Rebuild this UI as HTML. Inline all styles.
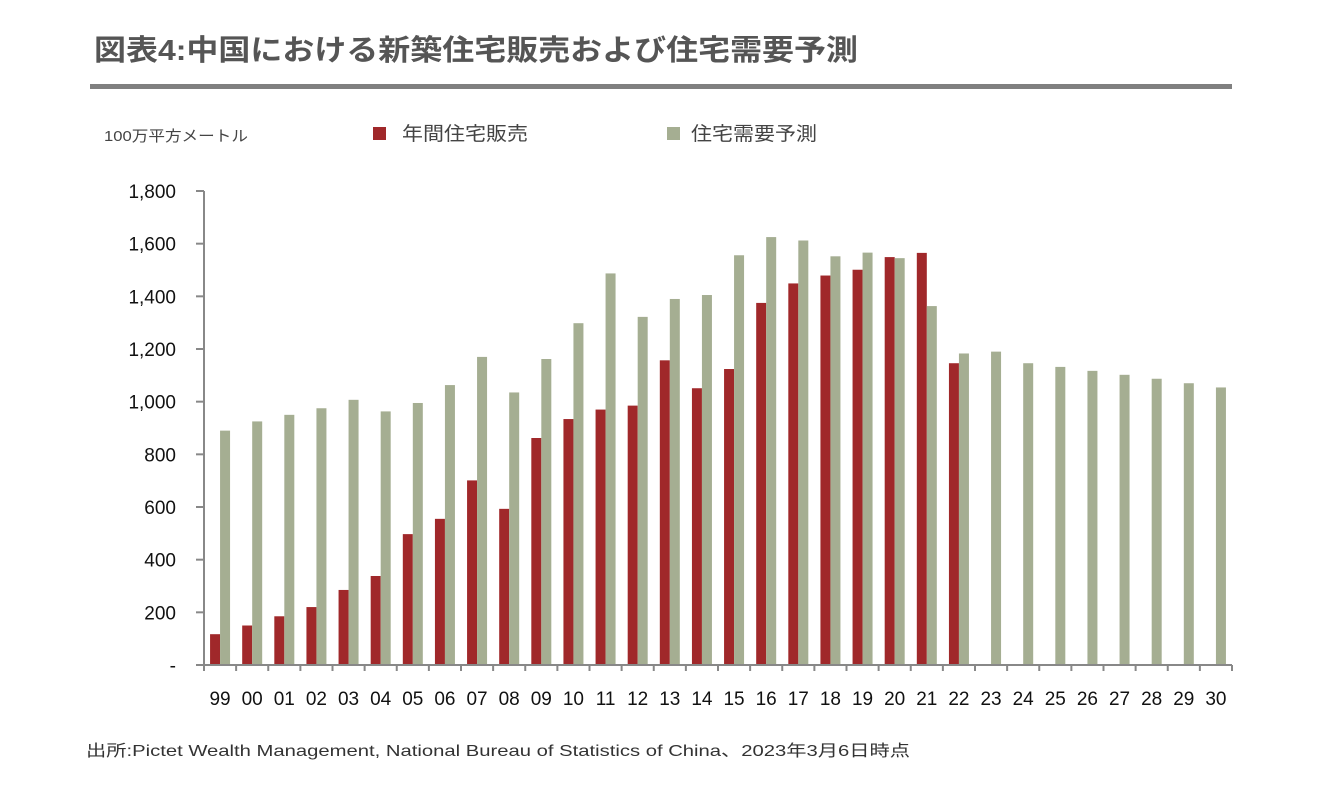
<!DOCTYPE html>
<html><head><meta charset="utf-8">
<style>
body{margin:0;background:#fff;width:1336px;height:782px;overflow:hidden;font-family:"Liberation Sans","Noto Sans CJK JP",sans-serif;}
svg text{font-family:"Liberation Sans","Noto Sans CJK JP",sans-serif;}
</style></head>
<body>
<svg width="1336" height="782">
<text x="94" y="60" font-size="29" font-weight="bold" fill="#555" textLength="764" lengthAdjust="spacingAndGlyphs">図表4:中国における新築住宅販売および住宅需要予測</text>
<rect x="90" y="84" width="1142" height="5" fill="#808080"/>
<text x="104" y="141" font-size="15" fill="#444" textLength="144" lengthAdjust="spacingAndGlyphs">100万平方メートル</text>
<rect x="373" y="127" width="13" height="13" fill="#a0282a"/>
<text x="402" y="140" font-size="19" fill="#444" textLength="126" lengthAdjust="spacingAndGlyphs">年間住宅販売</text>
<rect x="667" y="127" width="13" height="13" fill="#a5ae92"/>
<text x="691" y="140" font-size="19" fill="#444" textLength="126" lengthAdjust="spacingAndGlyphs">住宅需要予測</text>
<g id="plot"></g>
<text x="86" y="756" font-size="16" fill="#333" textLength="824" lengthAdjust="spacingAndGlyphs">出所:Pictet Wealth Management, National Bureau of Statistics of China、2023年3月6日時点</text>
</svg>
<script>
const categories=["99","00","01","02","03","04","05","06","07","08","09","10","11","12","13","14","15","16","17","18","19","20","21","22","23","24","25","26","27","28","29","30"];
const salesValues=[117,150,185,220,285,338,497,555,701,593,862,934,970,985,1157,1051,1124,1375,1449,1479,1501,1549,1565,1146];
const demandValues=[890,925,950,975,1007,963,995,1063,1170,1035,1162,1298,1487,1322,1390,1405,1556,1625,1612,1552,1566,1545,1363,1183,1190,1146,1132,1117,1102,1087,1070,1054];
const yTicks=[0,200,400,600,800,1000,1200,1400,1600,1800];
const yTickLabels=["-","200","400","600","800","1,000","1,200","1,400","1,600","1,800"];
const X0=204,X1=1232,Y0=665,Y1=191,YMAX=1800;
const step=(X1-X0)/categories.length;
const y=v=>Y0-(v/YMAX)*(Y0-Y1);
const xc=i=>X0+step*(i+0.5);
const g=document.getElementById('plot');
const NS="http://www.w3.org/2000/svg";
function mk(t,a){const e=document.createElementNS(NS,t);for(const k in a)e.setAttribute(k,a[k]);g.appendChild(e);return e;}
salesValues.forEach((v,i)=>{const r=mk('rect',{x:xc(i)-10,y:y(v),width:10,height:Y0-y(v),fill:'#a0282a'});

});
demandValues.forEach((v,i)=>{const r=mk('rect',{x:xc(i),y:y(v),width:10,height:Y0-y(v),fill:'#a5ae92'});

});
const ya=mk('line',{x1:X0,y1:Y1,x2:X0,y2:Y0,stroke:'#888','stroke-width':2});


const xa=mk('line',{x1:X0-8,y1:Y0,x2:X1,y2:Y0,stroke:'#888','stroke-width':2});


yTicks.forEach((t,i)=>{mk('line',{x1:X0-8,y1:y(t),x2:X0,y2:y(t),stroke:'#888','stroke-width':2});
const tx=mk('text',{x:176,y:y(t)+7,'font-size':19,fill:'#111','text-anchor':'end'});tx.textContent=yTickLabels[i];

});
for(let i=0;i<=categories.length;i++){mk('line',{x1:X0+step*i,y1:Y0,x2:X0+step*i,y2:Y0+6,stroke:'#888','stroke-width':2});}
categories.forEach((c,i)=>{const tx=mk('text',{x:xc(i),y:705,'font-size':19,fill:'#111','text-anchor':'middle'});tx.textContent=c;

});
</script>
</body></html>
